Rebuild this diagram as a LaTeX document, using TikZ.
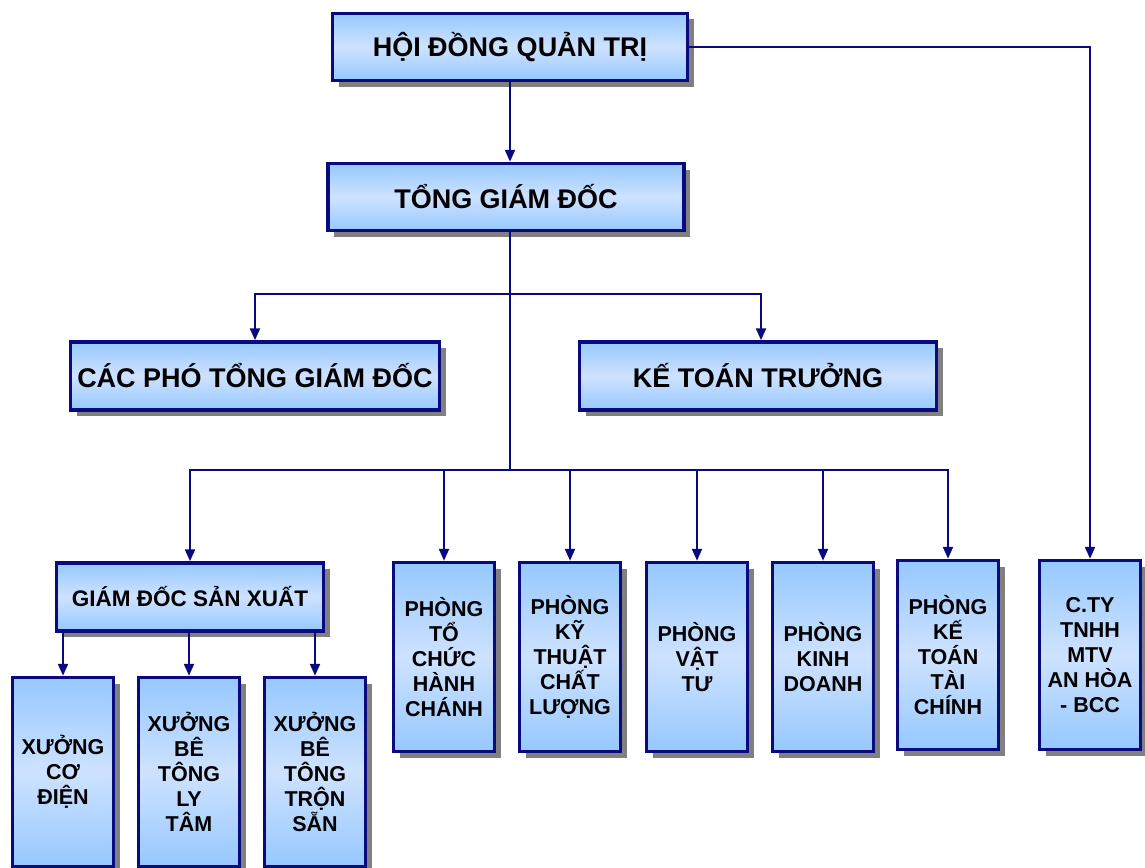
\documentclass[tikz,border=0pt]{standalone}
\usepackage{fontspec}
\setmainfont{Liberation Sans}
\usetikzlibrary{arrows.meta,shadows}

\definecolor{navy}{RGB}{10,10,128}
\definecolor{boxtop}{RGB}{150,200,255}
\definecolor{boxmid}{RGB}{206,226,255}

\tikzset{
  box/.style={draw=navy, line width=3.5pt, top color=boxtop, bottom color=boxtop,
    middle color=boxmid, align=center, inner sep=0pt,
    drop shadow={shadow xshift=6pt, shadow yshift=-6pt, fill=black!50, opacity=1}},
  bigbox/.style={box, font=\fontsize{27}{31}\selectfont\bfseries, minimum height=67pt},
  tallbox/.style={box, font=\fontsize{21.5}{25}\selectfont\bfseries,
    minimum width=101pt, minimum height=189pt},
  arr/.style={draw=navy, line width=2.2pt, -{Triangle[length=12pt,width=10pt]}},
  line/.style={draw=navy, line width=2.2pt}
}

\begin{document}
\begin{tikzpicture}[x=1pt,y=-1pt]
    \fill[white] (0,0) rectangle (1145,867);
    \useasboundingbox (0,0) rectangle (1145,867);

    % top levels
    \node[bigbox, minimum width=355pt] (hdqt) at (510,47) {HỘI ĐỒNG QUẢN TRỊ};
    \node[bigbox, minimum width=356pt] (tgd) at (506,197) {TỔNG GIÁM ĐỐC};

    % deputies and chief accountant
    \node[bigbox, minimum width=369pt, minimum height=68pt] (pho) at (255,376) {CÁC PHÓ TỔNG GIÁM ĐỐC};
    \node[bigbox, minimum width=357pt, minimum height=68pt] (ktt) at (758,376) {KẾ TOÁN TRƯỞNG};

    % production director
    \node[box, font=\fontsize{22.5}{26}\selectfont\bfseries, minimum width=267pt,
      minimum height=68pt] (gdsx) at (190,597) {GIÁM ĐỐC SẢN XUẤT};

    % workshops
    \node[tallbox] (xcd) at (63,772) {XƯỞNG\\CƠ\\ĐIỆN};
    \node[tallbox] (xlt) at (189,772) {XƯỞNG\\BÊ\\TÔNG\\LY\\TÂM};
    \node[tallbox] (xts) at (315,772) {XƯỞNG\\BÊ\\TÔNG\\TRỘN\\SẴN};

    % departments
    \node[tallbox] (tchc) at (444,657) {PHÒNG\\TỔ\\CHỨC\\HÀNH\\CHÁNH};
    \node[tallbox] (ktcl) at (570,657) {PHÒNG\\KỸ\\THUẬT\\CHẤT\\LƯỢNG};
    \node[tallbox] (vt) at (697,657) {PHÒNG\\VẬT\\TƯ};
    \node[tallbox] (kd) at (823,657) {PHÒNG\\KINH\\DOANH};
    \node[tallbox] (kttc) at (948,655) {PHÒNG\\KẾ\\TOÁN\\TÀI\\CHÍNH};

    % subsidiary
    \node[tallbox] (cty) at (1090,655) {C.TY\\TNHH\\MTV\\AN HÒA\\- BCC};

    % connectors
    \coordinate (bus1) at (510,294);
    \coordinate (bus2) at (510,470);
    \draw[arr] (hdqt.south -| 510,0) -- (tgd.north -| 510,0);
    \draw[arr] (hdqt.east) -| (cty.north);
    \draw[line] (tgd.south -| bus1) -- (bus2);
    \draw[line] (257,294) -- (761,294);
    \draw[arr] (bus1) -| (pho.north);
    \draw[arr] (bus1) -| (ktt.north -| 761,0);
    \draw[line] (191,470) -- (944,470);
    \foreach \n in {gdsx,tchc,ktcl,vt,kd,kttc}
        \draw[arr] (bus2) -| (\n.north);
    \foreach \n in {xcd,xlt,xts}
        \draw[arr] (gdsx.south -| \n.north) -- (\n.north);
\end{tikzpicture}
\end{document}
